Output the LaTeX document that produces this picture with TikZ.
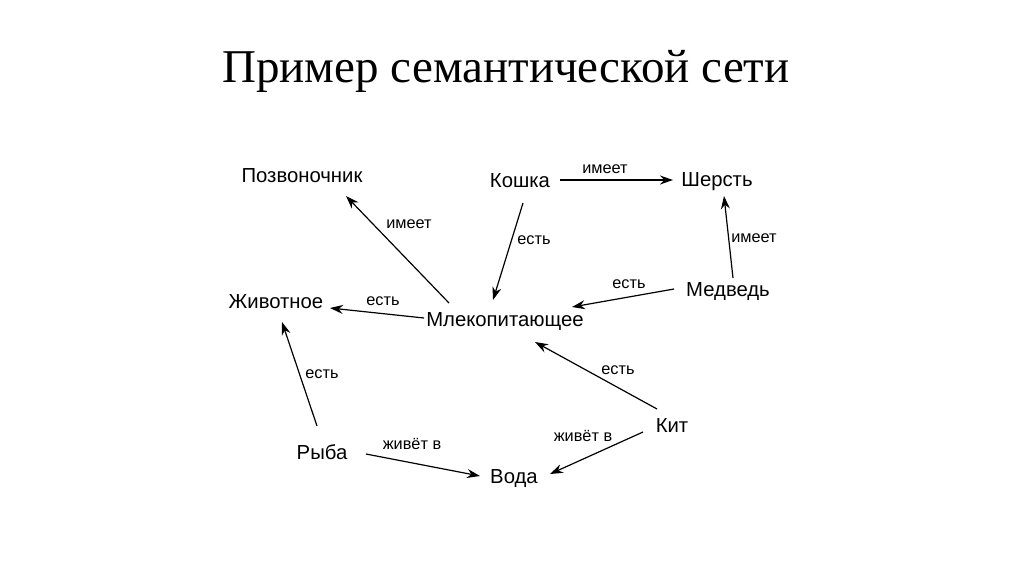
\documentclass[tikz,border=0pt]{standalone}
\usepackage{fontspec}
\setmainfont{Liberation Sans}
\newfontfamily\titlefont{Liberation Serif}
\usetikzlibrary{arrows.meta}
\begin{document}
\begin{tikzpicture}[x=1pt,y=-1pt,
  concept/.style={inner sep=0pt,font=\fontsize{20.3}{24}\selectfont},
  rel/.style={inner sep=0pt,font=\fontsize{16.3}{19}\selectfont},
  link/.style={line width=1.2pt,-{Stealth[length=13pt,width=9pt]}}]
\useasboundingbox (0,0) rectangle (1024,574);
\node[inner sep=0pt,font=\titlefont\fontsize{47}{54}\selectfont] (title) at (506,71) {Пример семантической сети};
\node[concept] (pozv) at (302,176) {Позвоночник};
\node[concept] (kosh) at (520,181) {Кошка};
\node[concept] (sher) at (717,182) {Шерсть};
\node[concept] (zhiv) at (276,302) {Животное};
\node[concept] (mlek) at (505,322) {Млекопитающее};
\node[concept] (medv) at (728,292) {Медведь};
\node[concept] (ryba) at (322,452) {Рыба};
\node[concept] (kit) at (672,426) {Кит};
\node[concept] (voda) at (514,479) {Вода};
\draw[link] ([shift={(-56,-19)}]mlek.center) -- ([shift={(44,20)}]pozv.center);
\draw[link] ([shift={(-81,-4)}]mlek.center) -- ([shift={(54,6)}]zhiv.center);
\draw[link] ([shift={(40,-1)}]kosh.center) -- ([shift={(-44,-2)}]sher.center);
\draw[link] ([shift={(3,22)}]kosh.center) -- ([shift={(-12,-22)}]mlek.center);
\draw[link] ([shift={(5,-14)}]medv.center) -- ([shift={(7,14)}]sher.center);
\draw[link] ([shift={(-54,-3)}]medv.center) -- ([shift={(67,-15)}]mlek.center);
\draw[link] ([shift={(-5,-26)}]ryba.center) -- ([shift={(6,20)}]zhiv.center);
\draw[link] ([shift={(-15,-17)}]kit.center) -- ([shift={(30,20)}]mlek.center);
\draw[link] ([shift={(44,2)}]ryba.center) -- ([shift={(-34,-3)}]voda.center);
\draw[link] ([shift={(-29,6)}]kit.center) -- ([shift={(36,-5)}]voda.center);
\node[rel] (l1) at (409,224) {имеет};
\node[rel] (l2) at (383,301) {есть};
\node[rel] (l3) at (605,169) {имеет};
\node[rel] (l4) at (534,240) {есть};
\node[rel] (l5) at (754,238) {имеет};
\node[rel] (l6) at (629,284) {есть};
\node[rel] (l7) at (322,374) {есть};
\node[rel] (l8) at (618,370) {есть};
\node[rel] (l9) at (412,444) {живёт в};
\node[rel] (l10) at (583,436) {живёт в};
\end{tikzpicture}
\end{document}
